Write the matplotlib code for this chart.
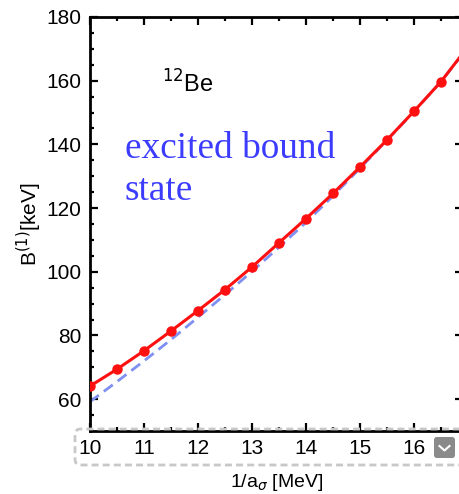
import numpy as np
import matplotlib
matplotlib.use("Agg")
import matplotlib.pyplot as plt
from matplotlib.patches import FancyBboxPatch
from matplotlib.ticker import MultipleLocator

# values
x_pts = [10, 10.5, 11, 11.5, 12, 12.5, 13, 13.5, 14, 14.5, 15, 15.5, 16, 16.5]
red_pts = [64.1, 69.4, 75.2, 81.4, 87.8, 94.4, 101.5, 109.1, 116.7, 124.6, 132.9, 141.4, 150.4, 159.7]
x_line = x_pts + [16.9]
red_line = red_pts + [168.5]
blue_line = [59.2, 65.5, 72.0, 78.7, 85.7, 92.8, 100.1, 107.7, 115.5, 123.8, 132.5, 141.3, 150.3, 159.7, 168.3]

fig = plt.figure(figsize=(4.6, 4.94), dpi=100)
ax = fig.add_axes([90/460, 1 - 431/494, 6.9*54/460, (431 - 17)/494])

ax.plot(x_line, blue_line, color="#7f90f2", lw=2, dashes=(4, 2.2), zorder=2)
ax.plot(x_line, red_line, color="#ff1010", lw=2.2, zorder=3)
ax.plot(x_pts, red_pts, "o", color="#ff1010", ms=6.5, zorder=4, clip_on=True)

ax.set_xlim(10, 16.9)
ax.set_ylim(50, 180)
ax.xaxis.set_major_locator(MultipleLocator(1))
ax.xaxis.set_minor_locator(MultipleLocator(0.5))
ax.yaxis.set_major_locator(MultipleLocator(20))
ax.yaxis.set_minor_locator(MultipleLocator(5))
ax.tick_params(which="both", direction="in", top=True, right=True, width=1.6)
ax.tick_params(which="major", length=6, labelsize=15, pad=6)
ax.tick_params(which="minor", length=3)
for s in ax.spines.values():
    s.set_linewidth(2)
for lab in ax.get_xticklabels() + ax.get_yticklabels():
    lab.set_fontfamily("Liberation Sans")

ax.set_ylabel("B$^{(1)}$[keV]", fontsize=15, family="Liberation Sans", labelpad=2)
ax.set_xlabel("1/a$_{\\sigma}$ [MeV]", fontsize=14, family="Liberation Sans", labelpad=10)

ax.text((162 - 90)/372.6, (431 - 93)/414, "$^{12}$Be", transform=ax.transAxes, fontsize=17,
        family="Liberation Sans", color="black", va="baseline")
ax.text((125 - 90)/372.6, (431 - 158)/414, "excited bound", transform=ax.transAxes,
        fontsize=26.8, family="Liberation Serif", color="#3c3cff", va="baseline")
ax.text((125 - 90)/372.6, (431 - 200)/414, "state", transform=ax.transAxes,
        fontsize=26.8, family="Liberation Serif", color="#3c3cff", va="baseline")

# dashed rounded frame around the tick labels and the small menu button
frame = FancyBboxPatch((75/460, 1 - 465/494), 400/460, 36/494,
                       boxstyle="round,pad=0,rounding_size=0.012",
                       transform=fig.transFigure, fill=False,
                       ec="#c8c8c8", lw=2, ls=(0, (2.5, 1.5)), clip_on=False)
fig.add_artist(frame)
btn = FancyBboxPatch((434/460, 1 - 458/494), 21/460, 21/494,
                     boxstyle="round,pad=0,rounding_size=0.006",
                     transform=fig.transFigure, fc="#8a8a8a", ec="none")
fig.add_artist(btn)
fig.add_artist(plt.Line2D([439.5/460, 444.5/460, 449.5/460],
                          [1 - 446/494, 1 - 450.5/494, 1 - 446/494],
                          transform=fig.transFigure, color="white", lw=1.5))

fig.savefig("out.png", dpi=100)
